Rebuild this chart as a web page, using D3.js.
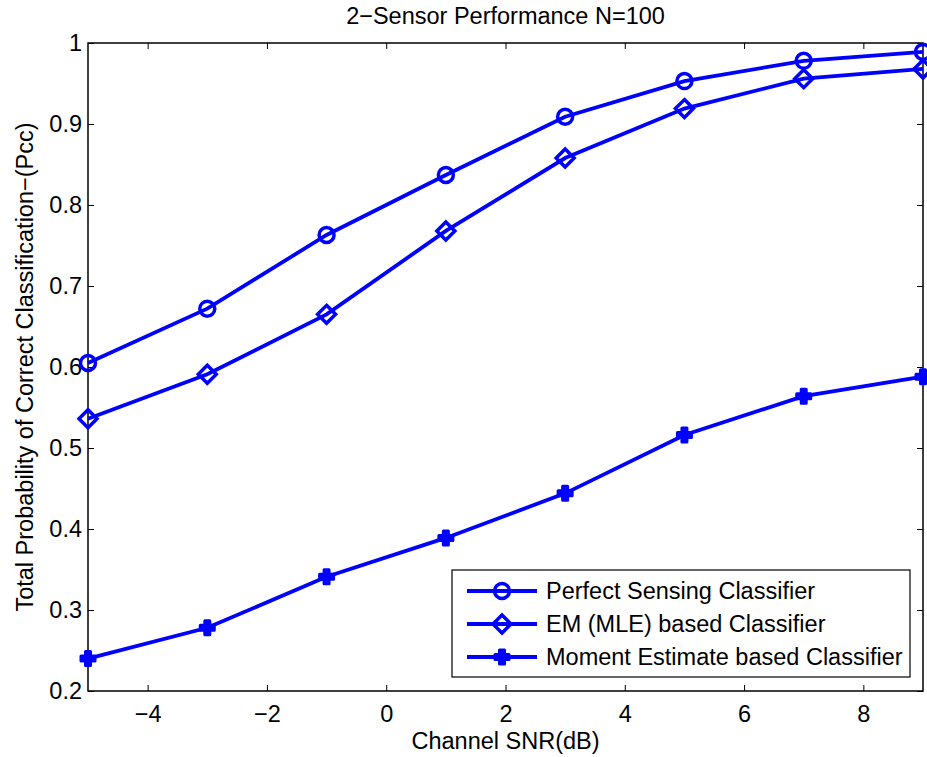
<!DOCTYPE html>
<html><head><meta charset="utf-8">
<script src="https://cdn.jsdelivr.net/npm/d3@7"></script>
<style>body{margin:0;background:#fff}text{font-family:"Liberation Sans",Arial,Helvetica,sans-serif}</style>
</head><body><svg id="c" width="927" height="757"></svg>
<script>
const snr = [-5,-3,-1,1,3,5,7,9];
const perfect = [0.605,0.672,0.763,0.837,0.909,0.953,0.978,0.989];
const em = [0.536,0.591,0.665,0.768,0.858,0.919,0.956,0.968];
const moment = [0.240,0.278,0.341,0.389,0.444,0.516,0.564,0.588];
const xTicks = [-4,-2,0,2,4,6,8];
const yTicks = [0.2,0.3,0.4,0.5,0.6,0.7,0.8,0.9,1];
const seriesNames = ["Perfect Sensing Classifier","EM (MLE) based Classifier","Moment Estimate based Classifier"];
const title = "2\u2212Sensor Performance N=100";
const xLabel = "Channel SNR(dB)";
const yLabel = "Total Probability of Correct Classification\u2212(Pcc)";

const svg = d3.select("#c");
const L=88, R=923, T=43, B=691;
const FS = 23.5;
const x = d3.scaleLinear().domain([-5,9]).range([L,R]);
const y = d3.scaleLinear().domain([0.2,1]).range([B,T]);
const blue = "#0000ff";
const fmt = v => (v<0?"\u2212":"")+Math.abs(v);

const g = svg.append("g");
const ax = (axis, tr) => { const a = g.append("g").attr("transform", tr).call(axis);
  a.select(".domain").remove(); a.selectAll("line").attr("stroke","#000"); return a; };
const bx = ax(d3.axisBottom(x).tickValues(xTicks).tickSize(-6).tickPadding(14).tickFormat(fmt), `translate(0,${B})`);
bx.selectAll("text").attr("font-size",FS).attr("fill","#000");
ax(d3.axisTop(x).tickValues(xTicks).tickSize(-6).tickFormat(""), `translate(0,${T})`);
const ly = ax(d3.axisLeft(y).tickValues(yTicks).tickSize(-6).tickPadding(6).tickFormat(d=>String(+d.toFixed(1))), `translate(${L},0)`);
ly.selectAll("text").attr("font-size",FS).attr("fill","#000");
ax(d3.axisRight(y).tickValues(yTicks).tickSize(-6).tickFormat(""), `translate(${R},0)`);
g.append("rect").attr("x",L).attr("y",T).attr("width",R-L).attr("height",B-T).attr("fill","none").attr("stroke","#000").attr("stroke-width",1.5);

function marker(sel, kind){
  if(kind===0) sel.append("circle").attr("r",7.5).attr("fill","none").attr("stroke",blue).attr("stroke-width",3.5);
  else if(kind===1) sel.append("path").attr("d","M0,-9L9,0L0,9L-9,0Z").attr("fill","none").attr("stroke",blue).attr("stroke-width",3.5);
  else sel.append("path").attr("d","M-2.5,-7H2.5V-2.5H7V2.5H2.5V7H-2.5V2.5H-7V-2.5H-2.5Z").attr("fill",blue).attr("stroke",blue).attr("stroke-width",3).attr("stroke-linejoin","round");
}
const data = [perfect, em, moment];
const line = d3.line().x((d,i)=>x(snr[i])).y(d=>y(d));
data.forEach((vals,k)=>{
  g.append("path").attr("d",line(vals)).attr("fill","none").attr("stroke",blue).attr("stroke-width",3.8);
  vals.forEach((v,i)=>{ marker(g.append("g").attr("transform",`translate(${x(snr[i])},${y(v)})`), k); });
});

const lg = svg.append("g");
lg.append("rect").attr("x",452).attr("y",570).attr("width",458).attr("height",107).attr("fill","#fff").attr("stroke","#000").attr("stroke-width",1.2);
seriesNames.forEach((n,k)=>{
  const yy = 591 + k*33;
  lg.append("line").attr("x1",467).attr("x2",537).attr("y1",yy).attr("y2",yy).attr("stroke",blue).attr("stroke-width",3.8);
  marker(lg.append("g").attr("transform",`translate(502,${yy})`), k);
  lg.append("text").attr("x",546).attr("y",yy+8).attr("font-size",FS).text(n);
});

svg.append("text").attr("x",(L+R)/2).attr("y",24).attr("text-anchor","middle").attr("font-size",FS).text(title);
svg.append("text").attr("x",(L+R)/2).attr("y",749).attr("text-anchor","middle").attr("font-size",FS).text(xLabel);
svg.append("text").attr("transform",`translate(33,${(T+B)/2}) rotate(-90)`).attr("text-anchor","middle").attr("font-size",FS).text(yLabel);
</script></body></html>
